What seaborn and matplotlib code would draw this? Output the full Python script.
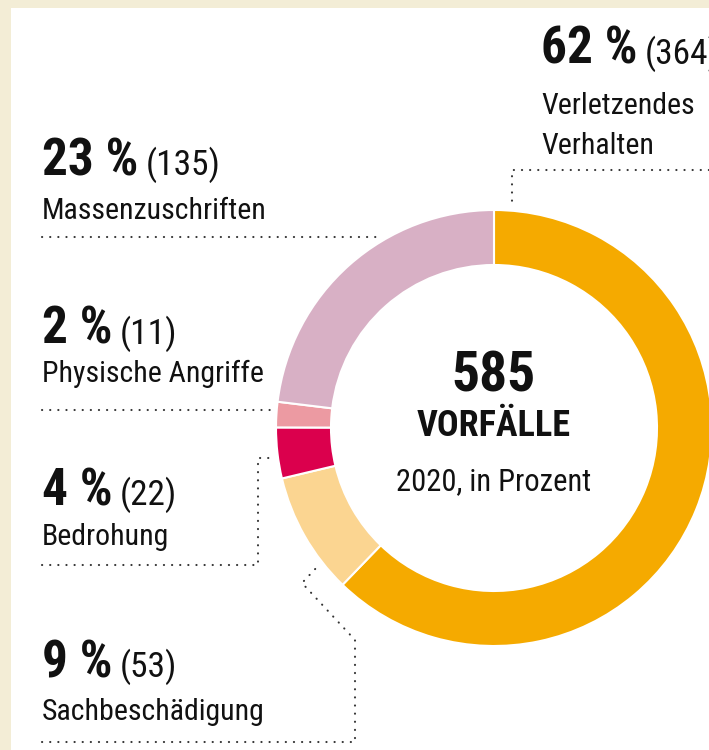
import matplotlib
matplotlib.use("Agg")
import matplotlib.pyplot as plt
from matplotlib.patches import Rectangle
import seaborn as sns

# data
categories = ["Verletzendes\nVerhalten", "Sachbeschädigung", "Bedrohung",
              "Physische Angriffe", "Massenzuschriften"]
counts = [364, 53, 22, 11, 135]
percents = [62, 9, 4, 2, 23]
total_label = "585"
colors = ["#F5AA00", "#FBD591", "#DB004D", "#EC9AA2", "#D8B0C5"]

sns.set_theme(style="white")
plt.rcParams["font.family"] = ["Roboto Condensed", "Liberation Sans Narrow",
                               "Roboto", "DejaVu Sans"]

W, H = 709, 750
fig = plt.figure(figsize=(W / 100, H / 100), dpi=100, facecolor="#F3EDD6")
ax = fig.add_axes([0, 0, 1, 1])

# white card
ax.add_patch(Rectangle((11, 8), W, H, facecolor="white", edgecolor="none", zorder=0))

# donut (y axis is flipped later, so counterclock here reads clockwise)
palette = sns.color_palette(colors)
ax.pie(counts, colors=palette, center=(494, 428), radius=218,
       startangle=-90, counterclock=True,
       wedgeprops=dict(width=55, edgecolor="white", linewidth=1.5))

ax.set_xlim(0, W)
ax.set_ylim(H, 0)
ax.set_aspect("auto")
ax.axis("off")

ink = "#111111"

# center text
ax.text(494, 392, total_label, ha="center", va="baseline", fontsize=40,
        fontweight="bold", color=ink)
ax.text(494, 436, "VORFÄLLE", ha="center", va="baseline", fontsize=26,
        fontweight="bold", color=ink)
ax.text(494, 490, "2020, in Prozent", ha="center", va="baseline", fontsize=22,
        color=ink)

# label blocks: (x, baseline of %, baseline of first name line)
label_pos = [(541, 64, 114), (42, 677, 720), (42, 505, 545),
             (42, 344, 382), (42, 175, 219)]

fig.canvas.draw()
renderer = fig.canvas.get_renderer()
inv = ax.transData.inverted()
for (x, yp, yn), pct, cnt, name in zip(label_pos, percents, counts, categories):
    t = ax.text(x, yp, f"{pct} %", ha="left", va="baseline", fontsize=37,
                fontweight="bold", color=ink)
    bb = t.get_window_extent(renderer)
    x_end = inv.transform((bb.x1, bb.y0))[0]
    ax.text(x_end + 7, yp, f"({cnt})", ha="left", va="baseline", fontsize=25.5,
            color=ink)
    for i, line in enumerate(name.split("\n")):
        ax.text(x, yn + 40 * i, line, ha="left", va="baseline", fontsize=21.5,
                color=ink)

# dotted leader lines
dot = dict(color="#333333", linewidth=1.5, linestyle=(0, (0.1, 3.8)),
           dash_capstyle="round", zorder=3)
ax.plot([709, 512, 512], [170, 170, 203], **dot)
ax.plot([42, 378], [237, 237], **dot)
ax.plot([42, 272], [410, 410], **dot)
ax.plot([42, 258, 258, 275], [565, 565, 458, 458], **dot)
ax.plot([42, 355, 355, 302, 318], [742, 742, 640, 583, 566], **dot)

fig.savefig("out.png", dpi=100, facecolor=fig.get_facecolor())
